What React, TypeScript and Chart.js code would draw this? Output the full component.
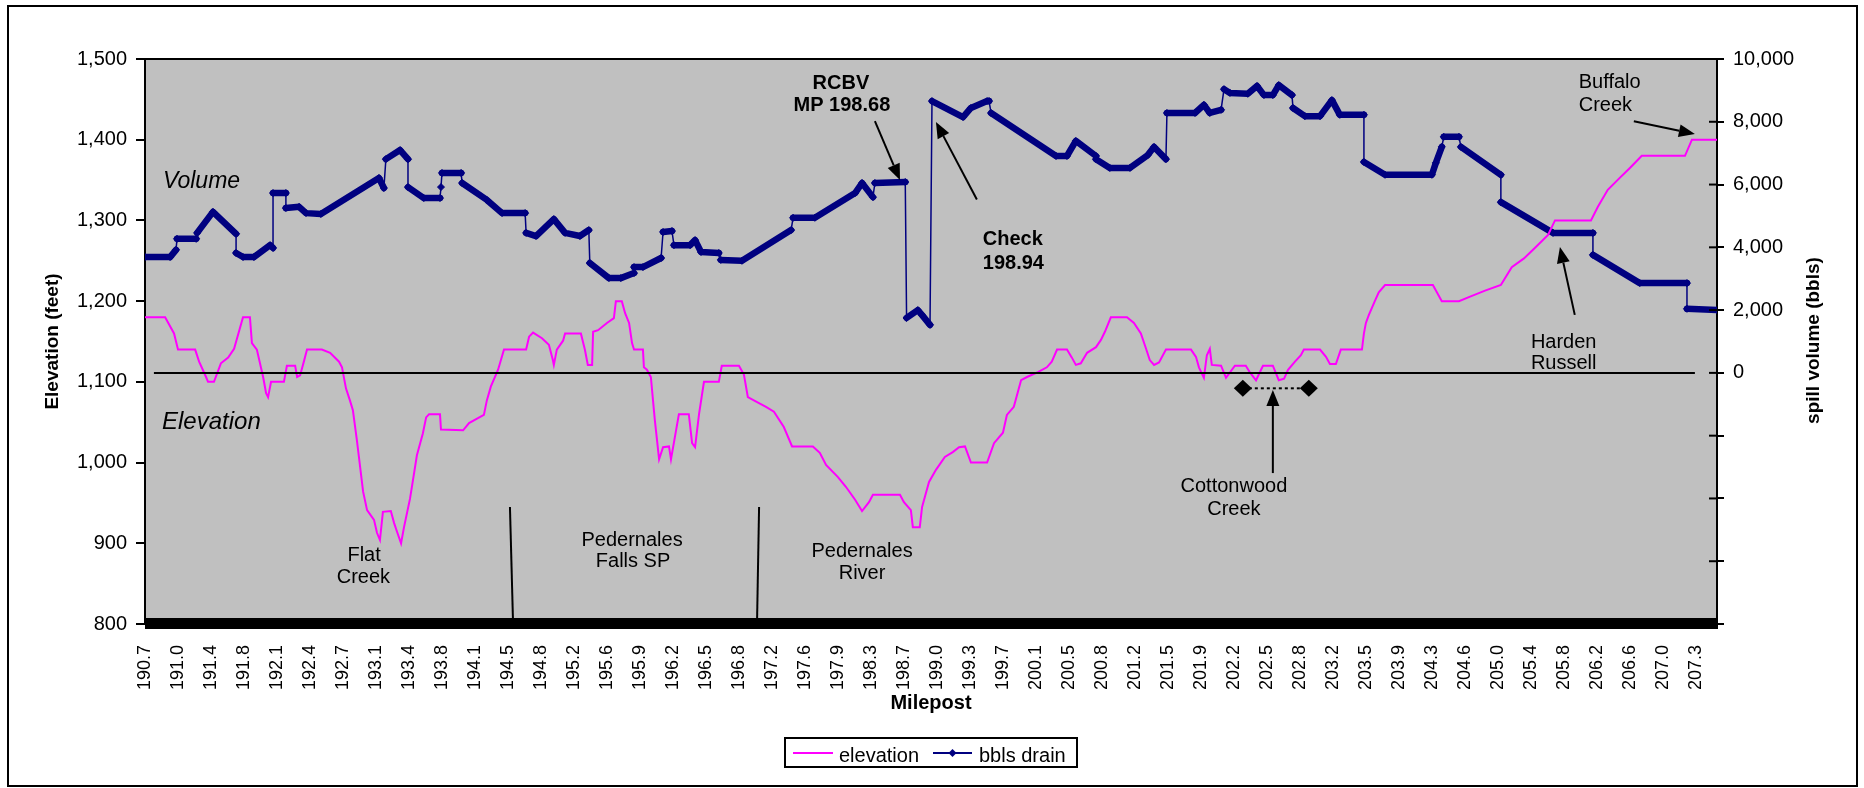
import React, { useEffect, useRef } from 'react';
import { Chart, registerables } from 'chart.js';

Chart.register(...registerables);

const FAMILY = '"Liberation Sans", Arial, sans-serif';

// Category (milepost) labels shown on the x axis, one per label slot
const MILEPOSTS = [
  '190.7', '191.0', '191.4', '191.8', '192.1', '192.4', '192.7', '193.1', '193.4', '193.8',
  '194.1', '194.5', '194.8', '195.2', '195.6', '195.9', '196.2', '196.5', '196.8', '197.2',
  '197.6', '197.9', '198.3', '198.7', '199.0', '199.3', '199.7', '200.1', '200.5', '200.8',
  '201.2', '201.5', '201.9', '202.2', '202.5', '202.8', '203.2', '203.5', '203.9', '204.3',
  '204.6', '205.0', '205.4', '205.8', '206.2', '206.6', '207.0', '207.3',
];
const X_MAX = 47.64; // last data position in label-slot units

// Elevation profile (feet): position along axis (label-slot units) and value
const ELEV_POS = [
  0.00, 0.61, 0.88, 1.00, 1.52, 1.64, 1.85, 1.91, 2.09, 2.30, 2.52, 2.70, 2.97, 3.18, 3.24, 3.39,
  3.58, 3.67, 3.73, 3.82, 4.21, 4.30, 4.55, 4.61, 4.70, 4.82, 4.91, 5.36, 5.61, 5.88, 5.97, 6.09,
  6.21, 6.30, 6.42, 6.61, 6.73, 6.94, 7.03, 7.12, 7.21, 7.45, 7.55, 7.64, 7.76, 7.85, 8.03, 8.12,
  8.24, 8.42, 8.52, 8.61, 8.94, 8.97, 9.64, 9.82, 10.09, 10.27, 10.36, 10.48, 10.70, 10.88, 11.55,
  11.64, 11.76, 12.03, 12.24, 12.36, 12.39, 12.48, 12.67, 12.73, 13.21, 13.33, 13.42, 13.55, 13.58,
  13.73, 14.00, 14.21, 14.27, 14.45, 14.55, 14.67, 14.76, 14.82, 15.09, 15.12, 15.21, 15.33, 15.45,
  15.58, 15.70, 15.88, 15.94, 16.18, 16.48, 16.58, 16.67, 16.79, 16.94, 17.39, 17.48, 18.00, 18.15,
  18.27, 18.55, 18.82, 19.06, 19.36, 19.61, 20.24, 20.45, 20.64, 21.00, 21.24, 21.52, 21.73, 21.94,
  22.06, 22.88, 23.00, 23.21, 23.27, 23.48, 23.55, 23.76, 23.97, 24.24, 24.48, 24.67, 24.85, 25.03,
  25.52, 25.73, 26.00, 26.12, 26.33, 26.55, 26.73, 27.06, 27.33, 27.48, 27.64, 27.94, 28.09, 28.21,
  28.36, 28.55, 28.82, 28.97, 29.09, 29.27, 29.76, 29.97, 30.18, 30.33, 30.45, 30.58, 30.73, 30.94,
  31.70, 31.85, 31.94, 32.09, 32.18, 32.27, 32.33, 32.61, 32.76, 33.03, 33.36, 33.48, 33.67, 33.88,
  34.18, 34.36, 34.52, 34.64, 34.85, 35.03, 35.12, 35.61, 35.79, 35.91, 36.09, 36.24, 36.88, 36.94,
  37.00, 37.09, 37.27, 37.39, 37.58, 39.03, 39.30, 39.82, 40.12, 40.61, 41.09, 41.42, 41.79, 42.15,
  42.52, 42.73, 43.82, 44.03, 44.33, 44.70, 45.00, 45.36, 46.67, 46.88, 47.64,
];
const ELEV_FT = [
  1180, 1180, 1160, 1140, 1140, 1125, 1106, 1100, 1100, 1123, 1130, 1141, 1180, 1180, 1148, 1140,
  1106, 1086, 1081, 1100, 1100, 1120, 1120, 1106, 1108, 1126, 1140, 1140, 1136, 1125, 1118, 1092,
  1077, 1065, 1028, 964, 941, 929, 913, 904, 939, 940, 925, 914, 900, 920, 955, 978,
  1009, 1036, 1056, 1060, 1060, 1041, 1040, 1049, 1055, 1059, 1077, 1094, 1115, 1140, 1140,
  1156, 1161, 1154, 1146, 1127, 1121, 1140, 1151, 1160, 1160, 1140, 1121, 1121, 1162,
  1164, 1173, 1179, 1200, 1200, 1185, 1173, 1148, 1140, 1140, 1118, 1115, 1106, 1053,
  1004, 1019, 1020, 1004, 1060, 1060, 1024, 1019, 1060, 1100, 1100, 1120, 1120, 1109,
  1081, 1075, 1069, 1063, 1044, 1020, 1020, 1012, 997, 982, 970, 954, 940, 951,
  960, 960, 951, 941, 920, 920, 945, 976, 991, 1007, 1013, 1019, 1020, 1000,
  1000, 1024, 1037, 1059, 1069, 1102, 1106, 1112, 1118, 1125, 1140, 1140, 1130, 1121,
  1123, 1136, 1143, 1152, 1162, 1180, 1180, 1173, 1160, 1142, 1127, 1121, 1124, 1140,
  1140, 1131, 1118, 1105, 1133, 1141, 1121, 1120, 1105, 1120, 1120, 1112, 1102, 1120,
  1120, 1102, 1104, 1115, 1125, 1133, 1140, 1140, 1131, 1122, 1122, 1140, 1140, 1160,
  1173, 1183, 1200, 1211, 1220, 1220, 1200, 1200, 1205, 1213, 1220, 1242, 1253, 1267,
  1282, 1300, 1300, 1317, 1338, 1353, 1365, 1380, 1380, 1400, 1400,
];

// Drain volume (bbls): position along axis (label-slot units) and value
const VOL_POS = [
  0, 0.76, 0.94, 0.97, 1.55, 1.58, 2.06, 2.76, 2.76, 2.97,
  3.30, 3.79, 3.88, 3.88, 4.27, 4.27, 4.67, 4.88, 5.33, 7.09,
  7.24, 7.30, 7.73, 7.97, 7.97, 8.45, 8.94, 8.97, 9.00, 9.58,
  9.61, 10.36, 10.82, 11.52, 11.55, 11.85, 12.39, 12.73, 13.18, 13.45,
  13.48, 14.06, 14.42, 14.82, 14.82, 15.09, 15.64, 15.70, 15.97, 16.03,
  16.52, 16.67, 16.85, 17.39, 17.45, 18.09, 19.58, 19.64, 20.30, 21.52,
  21.73, 22.06, 22.12, 23.04, 23.08, 23.42, 23.55, 23.79, 23.85, 24.79,
  25.03, 25.52, 25.58, 25.64, 27.61, 27.94, 28.21, 28.82, 28.82, 29.24,
  29.85, 30.39, 30.58, 30.94, 30.97, 31.82, 32.09, 32.27, 32.61, 32.70,
  32.88, 33.42, 33.70, 33.91, 34.18, 34.36, 34.76, 34.79, 35.15, 35.61,
  35.97, 36.21, 36.94, 36.94, 37.58, 39.00, 39.12, 39.30, 39.36, 39.82,
  39.88, 41.09, 41.09, 42.67, 43.88, 43.88, 45.30, 46.73, 46.73, 47.64,
];
const VOL_BBL = [
  3690, 3690, 3920, 4270, 4270, 4460, 5130, 4430, 3820, 3690,
  3690, 4070, 3980, 5730, 5730, 5250, 5290, 5090, 5060, 6210,
  5890, 6810, 7100, 6810, 5920, 5570, 5570, 5920, 6370, 6370,
  6050, 5510, 5090, 5090, 4460, 4360, 4900, 4460, 4360, 4550,
  3500, 3020, 3020, 3180, 3370, 3370, 3660, 4490, 4520, 4070,
  4070, 4230, 3850, 3820, 3600, 3570, 4550, 4940, 4940, 5730,
  6050, 5600, 6050, 6080, 1750, 2000, 1840, 1530, 8660, 8150,
  8440, 8660, 8660, 8280, 6910, 6910, 7390, 6910, 6810, 6530,
  6530, 6940, 7200, 6810, 8280, 8280, 8540, 8280, 8380, 9040,
  8920, 8890, 9140, 8850, 8850, 9170, 8850, 8440, 8180, 8180,
  8690, 8220, 8220, 6720, 6310, 6310, 6690, 7200, 7520, 7520,
  7200, 6310, 5440, 4460, 4460, 3760, 2860, 2860, 2040, 2000,
];

// Text annotations placed in axis units (x: label slots, e: elevation feet)
type Note = { text: string; u: number; e: number; align: CanvasTextAlign; font: string };
const NOTES: Note[] = [
  { text: 'Volume', u: 0.545, e: 1348, align: 'left', font: `italic 23px ${FAMILY}` },
  { text: 'Elevation', u: 0.515, e: 1050, align: 'left', font: `italic 24px ${FAMILY}` },
  { text: 'RCBV', u: 21.09, e: 1470, align: 'center', font: `bold 20px ${FAMILY}` },
  { text: 'MP 198.68', u: 21.12, e: 1443, align: 'center', font: `bold 20px ${FAMILY}` },
  { text: 'Check', u: 25.39, e: 1277, align: 'left', font: `bold 20px ${FAMILY}` },
  { text: '198.94', u: 25.39, e: 1247, align: 'left', font: `bold 20px ${FAMILY}` },
  { text: 'Buffalo', u: 43.45, e: 1471, align: 'left', font: `20px ${FAMILY}` },
  { text: 'Creek', u: 43.45, e: 1443, align: 'left', font: `20px ${FAMILY}` },
  { text: 'Harden', u: 42.0, e: 1149, align: 'left', font: `20px ${FAMILY}` },
  { text: 'Russell', u: 42.0, e: 1123, align: 'left', font: `20px ${FAMILY}` },
  { text: 'Cottonwood', u: 33.0, e: 970, align: 'center', font: `20px ${FAMILY}` },
  { text: 'Creek', u: 33.0, e: 942, align: 'center', font: `20px ${FAMILY}` },
  { text: 'Flat', u: 6.64, e: 885, align: 'center', font: `20px ${FAMILY}` },
  { text: 'Creek', u: 6.62, e: 858, align: 'center', font: `20px ${FAMILY}` },
  { text: 'Pedernales', u: 14.76, e: 903, align: 'center', font: `20px ${FAMILY}` },
  { text: 'Falls SP', u: 14.79, e: 877, align: 'center', font: `20px ${FAMILY}` },
  { text: 'Pedernales', u: 21.73, e: 890, align: 'center', font: `20px ${FAMILY}` },
  { text: 'River', u: 21.73, e: 863, align: 'center', font: `20px ${FAMILY}` },
];

// Arrows: [fromU, fromE, tipU, tipE]
const ARROWS: number[][] = [
  [22.12, 1423, 22.88, 1350],
  [25.21, 1326, 23.97, 1422],
  [45.12, 1423, 46.97, 1407],
  [43.33, 1183, 42.88, 1267],
  [34.18, 987, 34.18, 1090],
];
// Plain marker lines: [fromU, fromE, toU, toE]
const LINES: number[][] = [
  [11.06, 945, 11.15, 807],
  [18.61, 945, 18.55, 807],
];
const DIAMONDS_U = [33.27, 35.27];
const DIAMOND_E = 1092;

function drawArrow(ctx: CanvasRenderingContext2D, x0: number, y0: number, x1: number, y1: number) {
  const head = 16;
  const half = 6.5;
  const a = Math.atan2(y1 - y0, x1 - x0);
  const bx = x1 - head * Math.cos(a);
  const by = y1 - head * Math.sin(a);
  ctx.beginPath();
  ctx.moveTo(x0, y0);
  ctx.lineTo(bx, by);
  ctx.stroke();
  ctx.beginPath();
  ctx.moveTo(x1, y1);
  ctx.lineTo(bx + half * Math.sin(a), by - half * Math.cos(a));
  ctx.lineTo(bx - half * Math.sin(a), by + half * Math.cos(a));
  ctx.closePath();
  ctx.fill();
}

const decorPlugin = {
  id: 'decor',
  beforeDraw(chart: any) {
    const { ctx, chartArea: a } = chart;
    ctx.save();
    ctx.fillStyle = '#ffffff';
    ctx.fillRect(0, 0, chart.width, chart.height);
    ctx.fillStyle = '#c0c0c0';
    ctx.fillRect(a.left, a.top, a.right - a.left, a.bottom - a.top);
    ctx.restore();
  },
  afterDraw(chart: any) {
    const { ctx, chartArea: a, scales } = chart;
    const X = (u: number) => scales.x.getPixelForValue(u);
    const Y = (e: number) => scales.y.getPixelForValue(e);
    ctx.save();
    ctx.strokeStyle = '#000';
    ctx.fillStyle = '#000';

    // dense category tick band along the bottom axis
    ctx.fillRect(a.left, a.bottom - 6, a.right - a.left, 11);
    // plot-area top border
    ctx.lineWidth = 2;
    ctx.beginPath();
    ctx.moveTo(a.left - 1, a.top);
    ctx.lineTo(a.right + 1, a.top);
    ctx.stroke();
    // inner halves of the secondary-axis tick marks
    scales.y1.ticks.forEach((t: any) => {
      const p = scales.y1.getPixelForValue(t.value);
      ctx.beginPath();
      ctx.moveTo(a.right - 8, p);
      ctx.lineTo(a.right, p);
      ctx.stroke();
    });
    // right axis extends down through the band
    ctx.beginPath();
    ctx.moveTo(a.right, a.bottom);
    ctx.lineTo(a.right, a.bottom + 5);
    ctx.stroke();

    // zero line of the spill-volume axis
    const y0 = scales.y1.getPixelForValue(0);
    ctx.beginPath();
    ctx.moveTo(X(0.27), y0);
    ctx.lineTo(X(46.97), y0);
    ctx.stroke();

    // marker lines
    ctx.lineWidth = 2;
    LINES.forEach(([u0, e0, u1, e1]) => {
      ctx.beginPath();
      ctx.moveTo(X(u0), Y(e0));
      ctx.lineTo(X(u1), Y(e1));
      ctx.stroke();
    });
    // arrows
    ARROWS.forEach(([u0, e0, u1, e1]) => drawArrow(ctx, X(u0), Y(e0), X(u1), Y(e1)));

    // Cottonwood creek span: dotted line with diamonds
    const dy = Y(DIAMOND_E);
    ctx.setLineDash([3, 3]);
    ctx.beginPath();
    ctx.moveTo(X(DIAMONDS_U[0]), dy);
    ctx.lineTo(X(DIAMONDS_U[1]), dy);
    ctx.stroke();
    ctx.setLineDash([]);
    DIAMONDS_U.forEach((u) => {
      const cx = X(u);
      ctx.beginPath();
      ctx.moveTo(cx - 9, dy);
      ctx.lineTo(cx, dy - 8.5);
      ctx.lineTo(cx + 9, dy);
      ctx.lineTo(cx, dy + 8.5);
      ctx.closePath();
      ctx.fill();
    });

    // annotation texts
    ctx.textBaseline = 'middle';
    NOTES.forEach((n) => {
      ctx.font = n.font;
      ctx.textAlign = n.align;
      ctx.fillText(n.text, X(n.u), Y(n.e));
    });

    // right axis title (reads bottom to top)
    ctx.save();
    ctx.translate(a.right + 97, (a.top + a.bottom) / 2 - 1);
    ctx.rotate(-Math.PI / 2);
    ctx.font = `bold 19px ${FAMILY}`;
    ctx.textAlign = 'center';
    ctx.textBaseline = 'middle';
    ctx.fillText('spill volume (bbls)', 0, 0);
    ctx.restore();

    // legend
    const cx = (a.left + a.right) / 2;
    const lx = cx - 146;
    const ly = a.bottom + 114;
    ctx.fillStyle = '#fff';
    ctx.fillRect(lx, ly, 292, 29);
    ctx.lineWidth = 2;
    ctx.strokeStyle = '#000';
    ctx.strokeRect(lx, ly, 292, 29);
    const my = ly + 15;
    ctx.lineWidth = 2;
    ctx.strokeStyle = '#ff00ff';
    ctx.beginPath();
    ctx.moveTo(lx + 8, my);
    ctx.lineTo(lx + 48, my);
    ctx.stroke();
    ctx.strokeStyle = '#000080';
    ctx.beginPath();
    ctx.moveTo(lx + 148, my);
    ctx.lineTo(lx + 187, my);
    ctx.stroke();
    ctx.fillStyle = '#000080';
    ctx.beginPath();
    ctx.moveTo(lx + 163.5, my);
    ctx.lineTo(lx + 167.5, my - 4);
    ctx.lineTo(lx + 171.5, my);
    ctx.lineTo(lx + 167.5, my + 4);
    ctx.closePath();
    ctx.fill();
    ctx.fillStyle = '#000';
    ctx.font = `20px ${FAMILY}`;
    ctx.textAlign = 'left';
    ctx.textBaseline = 'alphabetic';
    ctx.fillText('elevation', lx + 54, ly + 24);
    ctx.fillText('bbls drain', lx + 194, ly + 24);

    // outer frame
    ctx.lineWidth = 2;
    ctx.strokeStyle = '#000';
    ctx.strokeRect(8, 6, 1849, 780);
    ctx.restore();
  },
};

export default function App() {
  const ref = useRef<HTMLCanvasElement | null>(null);

  useEffect(() => {
    const canvas = ref.current;
    if (!canvas) return;
    const elevation = ELEV_POS.map((x, i) => ({ x, y: ELEV_FT[i] }));
    const volume = VOL_POS.map((x, i) => ({ x, y: VOL_BBL[i] }));

    const chart = new Chart(canvas, {
      type: 'line',
      data: {
        datasets: [
          {
            label: 'elevation',
            data: elevation,
            yAxisID: 'y',
            borderColor: '#ff00ff',
            backgroundColor: '#ff00ff',
            borderWidth: 2,
            pointRadius: 0,
            tension: 0,
            order: 1,
          },
          {
            label: 'bbls drain',
            data: volume,
            yAxisID: 'y1',
            borderColor: '#000080',
            backgroundColor: '#000080',
            borderWidth: 6.5,
            borderJoinStyle: 'round',
            borderCapStyle: 'round',
            pointRadius: 3.5,
            pointStyle: 'rectRot',
            pointBorderWidth: 1,
            pointBorderColor: '#000080',
            pointBackgroundColor: '#000080',
            tension: 0,
            order: 2,
            segment: {
              borderWidth: (c: any) => {
                const dx = Math.abs(c.p1.x - c.p0.x);
                const dy = Math.abs(c.p1.y - c.p0.y);
                return dx < 3.5 && dy > 2 * dx ? 1.5 : 6.5;
              },
            },
          } as any,
        ],
      },
      options: {
        responsive: false,
        animation: false,
        devicePixelRatio: 1,
        events: [],
        layout: { padding: { top: 59, left: 0, right: 0, bottom: 0 } },
        plugins: {
          legend: { display: false },
          tooltip: { enabled: false },
        },
        scales: {
          x: {
            type: 'linear',
            min: 0,
            max: X_MAX,
            afterBuildTicks: (s: any) => {
              s.ticks = MILEPOSTS.map((_, i) => ({ value: i }));
            },
            afterFit: (s: any) => {
              s.height = 164;
            },
            grid: { display: false },
            border: { display: false },
            ticks: {
              autoSkip: false,
              minRotation: 90,
              maxRotation: 90,
              padding: 13,
              color: '#000',
              font: { family: FAMILY, size: 18 },
              callback: (_v: any, i: number) => MILEPOSTS[i] ?? '',
            },
            title: {
              display: true,
              text: 'Milepost',
              color: '#000',
              font: { family: FAMILY, size: 20, weight: 'bold' },
              padding: { top: 0, bottom: 73 },
            },
          },
          y: {
            type: 'linear',
            position: 'left',
            min: 800,
            max: 1500,
            afterFit: (s: any) => {
              s.width = 145;
            },
            grid: { drawOnChartArea: false, drawTicks: true, tickLength: 9, color: '#000', lineWidth: 2 },
            border: { display: true, color: '#000', width: 2 },
            ticks: {
              stepSize: 100,
              padding: 9,
              color: '#000',
              font: { family: FAMILY, size: 20 },
              callback: (v: any) => Number(v).toLocaleString('en-US'),
            },
            title: {
              display: true,
              text: 'Elevation (feet)',
              color: '#000',
              font: { family: FAMILY, size: 19, weight: 'bold' },
              padding: { top: 41.6, bottom: 0 },
            },
          },
          y1: {
            type: 'linear',
            position: 'right',
            min: -8000,
            max: 10000,
            afterFit: (s: any) => {
              s.width = 147;
            },
            grid: { drawOnChartArea: false, drawTicks: true, tickLength: 7, color: '#000', lineWidth: 2 },
            border: { display: true, color: '#000', width: 2 },
            ticks: {
              stepSize: 2000,
              padding: 9,
              color: '#000',
              font: { family: FAMILY, size: 20 },
              callback: (v: any) => (Number(v) >= 0 ? Number(v).toLocaleString('en-US') : ''),
            },
          },
        },
      } as any,
      plugins: [decorPlugin],
    });
    return () => chart.destroy();
  }, []);

  return (
    <div style={{ position: 'fixed', left: 0, top: 0, width: 1864, height: 788, background: '#fff', overflow: 'hidden' }}>
      <canvas ref={ref} width={1864} height={788} style={{ display: 'block', width: 1864, height: 788 }} />
    </div>
  );
}
